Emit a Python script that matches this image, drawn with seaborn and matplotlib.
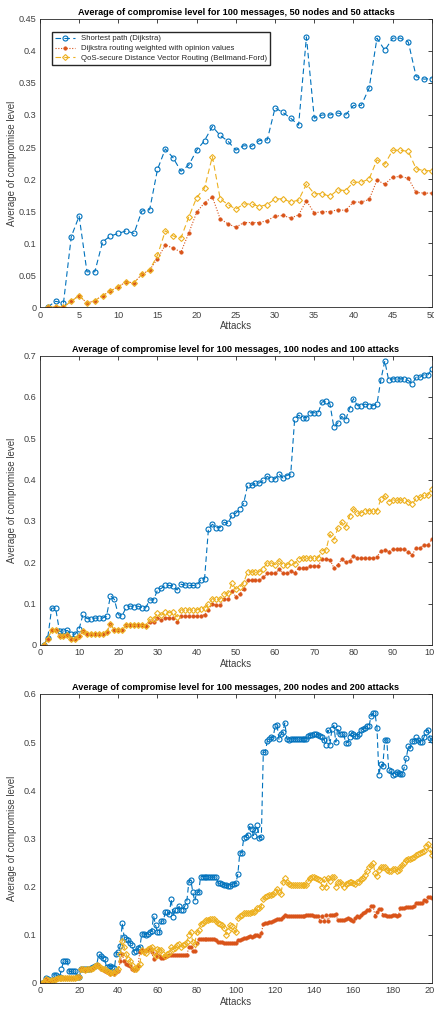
import numpy as np
import pandas as pd
import matplotlib
matplotlib.use('Agg')
import matplotlib.pyplot as plt
from matplotlib.ticker import FuncFormatter
import seaborn as sns

# panel 1: 50 nodes / 50 attacks
p1_sp = [0, 0.009, 0.006, 0.11, 0.142, 0.055, 0.055, 0.102, 0.111, 0.115,
         0.119, 0.115, 0.150, 0.152, 0.215, 0.247, 0.233, 0.212, 0.222, 0.245,
         0.26, 0.282, 0.268, 0.259, 0.245, 0.252, 0.251, 0.26, 0.261, 0.311,
         0.304, 0.295, 0.284, 0.422, 0.295, 0.30, 0.30, 0.303, 0.30, 0.315,
         0.315, 0.342, 0.42, 0.401, 0.42, 0.42, 0.414, 0.36, 0.356, 0.357]
p1_dw = [0, 0, 0, 0.009, 0.018, 0.006, 0.01, 0.018, 0.025, 0.032,
         0.039, 0.038, 0.051, 0.058, 0.0755, 0.097, 0.092, 0.086, 0.116, 0.148,
         0.163, 0.172, 0.1375, 0.13, 0.1245, 0.132, 0.132, 0.132, 0.135, 0.142,
         0.143, 0.139, 0.144, 0.166, 0.147, 0.149, 0.149, 0.152, 0.151, 0.164,
         0.164, 0.168, 0.198, 0.192, 0.203, 0.204, 0.201, 0.179, 0.178, 0.178]
p1_qos = [0, 0, 0, 0.009, 0.018, 0.006, 0.01, 0.018, 0.025, 0.032,
          0.039, 0.038, 0.051, 0.058, 0.081, 0.119, 0.111, 0.108, 0.141, 0.171,
          0.186, 0.235, 0.169, 0.160, 0.153, 0.161, 0.161, 0.157, 0.160, 0.169,
          0.169, 0.164, 0.167, 0.192, 0.177, 0.177, 0.173, 0.183, 0.182, 0.195,
          0.195, 0.2, 0.23, 0.223, 0.245, 0.245, 0.243, 0.216, 0.213, 0.213]

# panel 2: 100 nodes / 100 attacks
p2_sp = [0, 0.018, 0.089, 0.089, 0.033, 0.033, 0.035, 0.027, 0.026, 0.039,
         0.074, 0.064, 0.063, 0.065, 0.065, 0.065, 0.07, 0.119, 0.11, 0.073,
         0.071, 0.091, 0.094, 0.093, 0.094, 0.09, 0.09, 0.109, 0.109, 0.133,
         0.137, 0.145, 0.144, 0.143, 0.133, 0.147, 0.145, 0.144, 0.144, 0.144,
         0.157, 0.159, 0.281, 0.292, 0.284, 0.284, 0.297, 0.294, 0.315, 0.319,
         0.328, 0.343, 0.387, 0.386, 0.392, 0.392, 0.398, 0.408, 0.402, 0.402,
         0.414, 0.404, 0.41, 0.414, 0.547, 0.556, 0.55, 0.55, 0.562, 0.562,
         0.562, 0.588, 0.59, 0.583, 0.527, 0.537, 0.553, 0.545, 0.572, 0.596,
         0.579, 0.579, 0.583, 0.579, 0.579, 0.583, 0.642, 0.687, 0.64, 0.644,
         0.644, 0.644, 0.644, 0.64, 0.632, 0.648, 0.648, 0.654, 0.653, 0.668]
p2_dw = [0, 0.015, 0.036, 0.036, 0.022, 0.022, 0.024, 0.015, 0.015, 0.022,
         0.033, 0.027, 0.027, 0.027, 0.027, 0.027, 0.031, 0.05, 0.036, 0.036,
         0.036, 0.048, 0.048, 0.048, 0.048, 0.048, 0.046, 0.056, 0.056, 0.066,
         0.061, 0.066, 0.066, 0.066, 0.055, 0.069, 0.069, 0.069, 0.069, 0.069,
         0.071, 0.073, 0.085, 0.099, 0.096, 0.096, 0.11, 0.11, 0.13, 0.117,
         0.124, 0.135, 0.156, 0.156, 0.156, 0.156, 0.164, 0.173, 0.173, 0.173,
         0.183, 0.173, 0.173, 0.178, 0.175, 0.186, 0.186, 0.186, 0.191, 0.191,
         0.191, 0.208, 0.208, 0.206, 0.187, 0.194, 0.207, 0.2, 0.204, 0.215,
         0.21, 0.21, 0.21, 0.21, 0.21, 0.213, 0.227, 0.23, 0.226, 0.231,
         0.231, 0.231, 0.231, 0.226, 0.218, 0.235, 0.235, 0.242, 0.242, 0.256]
p2_qos = [0, 0.015, 0.036, 0.036, 0.022, 0.022, 0.024, 0.015, 0.015, 0.022,
          0.033, 0.027, 0.027, 0.027, 0.027, 0.027, 0.031, 0.05, 0.036, 0.036,
          0.036, 0.048, 0.048, 0.048, 0.048, 0.048, 0.046, 0.062, 0.062, 0.077,
          0.072, 0.08, 0.078, 0.08, 0.068, 0.085, 0.085, 0.085, 0.085, 0.085,
          0.087, 0.089, 0.099, 0.112, 0.111, 0.111, 0.123, 0.125, 0.149, 0.135,
          0.14, 0.151, 0.177, 0.177, 0.177, 0.177, 0.185, 0.199, 0.199, 0.194,
          0.204, 0.194, 0.194, 0.2, 0.196, 0.208, 0.211, 0.211, 0.211, 0.211,
          0.211, 0.228, 0.23, 0.268, 0.254, 0.282, 0.297, 0.285, 0.312, 0.33,
          0.319, 0.32, 0.325, 0.325, 0.325, 0.325, 0.353, 0.361, 0.347, 0.351,
          0.351, 0.351, 0.351, 0.347, 0.34, 0.355, 0.357, 0.362, 0.362, 0.378]

# panel 3: 200 nodes / 200 attacks
p3_sp = [0, 0.002, 0.01, 0.008, 0.005, 0.007, 0.017, 0.017, 0.012, 0.012,
         0.028, 0.045, 0.045, 0.045, 0.024, 0.024, 0.024, 0.024, 0.012, 0.012,
         0.028, 0.03, 0.028, 0.03, 0.03, 0.031, 0.033, 0.036, 0.038, 0.06,
         0.055, 0.052, 0.05, 0.033, 0.034, 0.036, 0.033, 0.031, 0.061, 0.065,
         0.077, 0.124, 0.095, 0.092, 0.089, 0.084, 0.079, 0.064, 0.067, 0.072,
         0.075, 0.102, 0.102, 0.1, 0.102, 0.105, 0.107, 0.139, 0.12, 0.105,
         0.105, 0.128, 0.129, 0.148, 0.148, 0.143, 0.174, 0.138, 0.152, 0.152,
         0.159, 0.152, 0.152, 0.16, 0.171, 0.21, 0.214, 0.189, 0.17, 0.188,
         0.188, 0.221, 0.221, 0.221, 0.221, 0.22, 0.22, 0.22, 0.22, 0.219,
         0.207, 0.207, 0.205, 0.204, 0.203, 0.201, 0.202, 0.205, 0.206, 0.207,
         0.226, 0.27, 0.27, 0.3, 0.304, 0.308, 0.325, 0.32, 0.306, 0.318,
         0.327, 0.3, 0.304, 0.479, 0.479, 0.502, 0.506, 0.511, 0.509, 0.533,
         0.535, 0.506, 0.516, 0.521, 0.54, 0.507, 0.504, 0.507, 0.507, 0.507,
         0.507, 0.507, 0.507, 0.507, 0.507, 0.507, 0.513, 0.515, 0.515, 0.517,
         0.517, 0.515, 0.512, 0.51, 0.505, 0.495, 0.525, 0.495, 0.527, 0.535,
         0.5, 0.53, 0.517, 0.517, 0.517, 0.499, 0.499, 0.51, 0.519, 0.517,
         0.513, 0.513, 0.517, 0.525, 0.527, 0.53, 0.534, 0.534, 0.555, 0.56,
         0.56, 0.53, 0.432, 0.455, 0.451, 0.505, 0.505, 0.443, 0.44, 0.432,
         0.434, 0.438, 0.436, 0.434, 0.434, 0.449, 0.468, 0.491, 0.488, 0.502,
         0.502, 0.511, 0.504, 0.5, 0.5, 0.51, 0.522, 0.526, 0.509, 0.505]
p3_dw = [0, 0.002, 0.008, 0.006, 0.005, 0.007, 0.007, 0.008, 0.01, 0.01,
         0.01, 0.01, 0.011, 0.011, 0.01, 0.01, 0.011, 0.011, 0.012, 0.012,
         0.028, 0.028, 0.027, 0.028, 0.028, 0.029, 0.032, 0.035, 0.038, 0.033,
         0.03, 0.028, 0.025, 0.022, 0.02, 0.019, 0.02, 0.019, 0.022, 0.025,
         0.045, 0.06, 0.045, 0.04, 0.038, 0.035, 0.03, 0.027, 0.03, 0.035,
         0.065, 0.068, 0.066, 0.068, 0.068, 0.07, 0.065, 0.049, 0.06, 0.055,
         0.055, 0.052, 0.052, 0.054, 0.056, 0.058, 0.058, 0.058, 0.058, 0.058,
         0.058, 0.058, 0.058, 0.058, 0.058, 0.075, 0.075, 0.066, 0.066, 0.082,
         0.091, 0.091, 0.091, 0.091, 0.091, 0.091, 0.091, 0.091, 0.091, 0.09,
         0.085, 0.085, 0.085, 0.084, 0.084, 0.084, 0.083, 0.083, 0.082, 0.082,
         0.09, 0.09, 0.091, 0.093, 0.094, 0.096, 0.098, 0.096, 0.097, 0.1,
         0.1, 0.098, 0.103, 0.123, 0.124, 0.125, 0.127, 0.127, 0.128, 0.13,
         0.132, 0.133, 0.133, 0.138, 0.141, 0.14, 0.14, 0.14, 0.14, 0.14,
         0.14, 0.14, 0.14, 0.14, 0.14, 0.141, 0.142, 0.142, 0.141, 0.14,
         0.14, 0.14, 0.128, 0.14, 0.128, 0.141, 0.128, 0.142, 0.142, 0.142,
         0.143, 0.13, 0.13, 0.131, 0.13, 0.132, 0.134, 0.133, 0.13, 0.129,
         0.135, 0.14, 0.138, 0.142, 0.145, 0.148, 0.152, 0.152, 0.16, 0.16,
         0.139, 0.148, 0.154, 0.154, 0.141, 0.142, 0.14, 0.14, 0.14, 0.141,
         0.142, 0.14, 0.142, 0.155, 0.155, 0.155, 0.157, 0.158, 0.158, 0.158,
         0.16, 0.165, 0.165, 0.165, 0.165, 0.172, 0.17, 0.178, 0.178, 0.176]
p3_qos = [0, 0.002, 0.008, 0.006, 0.005, 0.007, 0.007, 0.008, 0.01, 0.01,
          0.01, 0.01, 0.011, 0.011, 0.01, 0.01, 0.011, 0.011, 0.012, 0.012,
          0.028, 0.028, 0.027, 0.028, 0.03, 0.03, 0.032, 0.035, 0.038, 0.035,
          0.032, 0.03, 0.028, 0.025, 0.022, 0.02, 0.022, 0.02, 0.024, 0.028,
          0.06, 0.088, 0.075, 0.06, 0.05, 0.045, 0.038, 0.03, 0.028, 0.035,
          0.04, 0.068, 0.065, 0.063, 0.07, 0.072, 0.075, 0.065, 0.055, 0.07,
          0.068, 0.068, 0.06, 0.055, 0.06, 0.062, 0.075, 0.07, 0.072, 0.078,
          0.08, 0.075, 0.078, 0.08, 0.085, 0.1, 0.106, 0.085, 0.08, 0.105,
          0.11, 0.123, 0.125, 0.128, 0.13, 0.13, 0.132, 0.132, 0.132, 0.128,
          0.125, 0.122, 0.12, 0.115, 0.1, 0.108, 0.12, 0.118, 0.11, 0.105,
          0.135, 0.14, 0.142, 0.145, 0.145, 0.145, 0.145, 0.148, 0.148, 0.15,
          0.155, 0.155, 0.16, 0.175, 0.178, 0.18, 0.182, 0.183, 0.185, 0.188,
          0.195, 0.188, 0.185, 0.21, 0.218, 0.21, 0.205, 0.203, 0.203, 0.203,
          0.203, 0.203, 0.203, 0.203, 0.203, 0.203, 0.212, 0.218, 0.22, 0.22,
          0.218, 0.215, 0.213, 0.2, 0.215, 0.2, 0.218, 0.212, 0.22, 0.22,
          0.2, 0.21, 0.21, 0.205, 0.2, 0.205, 0.208, 0.21, 0.21, 0.207,
          0.205, 0.21, 0.21, 0.215, 0.218, 0.225, 0.232, 0.24, 0.245, 0.25,
          0.228, 0.222, 0.235, 0.24, 0.24, 0.24, 0.235, 0.233, 0.232, 0.237,
          0.237, 0.233, 0.235, 0.24, 0.245, 0.25, 0.255, 0.257, 0.258, 0.26,
          0.262, 0.265, 0.268, 0.27, 0.272, 0.275, 0.285, 0.288, 0.278, 0.265]

labels = ['Shortest path (Dijkstra)',
          'Dijkstra routing weighted with opinion values',
          'QoS-secure Distance Vector Routing (Bellmand-Ford)']
titles = ['Average of compromise level for 100 messages, 50 nodes and 50 attacks',
          'Average of compromise level for 100 messages, 100 nodes and 100 attacks',
          'Average of compromise level for 100 messages, 200 nodes and 200 attacks']
panels = [(p1_sp, p1_dw, p1_qos), (p2_sp, p2_dw, p2_qos), (p3_sp, p3_dw, p3_qos)]
xmax = [50, 100, 200]
xstep = [5, 10, 20]
ymax = [0.45, 0.7, 0.6]
ystep = [0.05, 0.1, 0.1]

sns.set_style('white')
plt.rcParams['font.family'] = ['Liberation Sans', 'DejaVu Sans']

fig = plt.figure(figsize=(4.34, 10.09), dpi=100)
rects = [[0.092, 0.6957, 0.903, 0.2855],
         [0.092, 0.3608, 0.903, 0.2867],
         [0.092, 0.0258, 0.903, 0.2864]]

dark = '#262626'
styles = [dict(color='#0072BD', linestyle=(0, (5, 3)), marker='o', markersize=3.6,
               markerfacecolor='none', markeredgecolor='#0072BD', markeredgewidth=0.8),
          dict(color='#D95319', linestyle=(0, (1, 1.5)), marker='o', markersize=2.6,
               markerfacecolor='#D95319', markeredgecolor='#D95319', markeredgewidth=0.3),
          dict(color='#EDB120', linestyle=(0, (5, 3)), marker='D', markersize=3.0,
               markerfacecolor='none', markeredgecolor='#EDB120', markeredgewidth=0.8)]

fmt = FuncFormatter(lambda v, p: f'{v:g}')

for i, (series, rect) in enumerate(zip(panels, rects)):
    ax = fig.add_axes(rect)
    df = pd.DataFrame({'Attacks': np.arange(1, len(series[0]) + 1),
                       'sp': series[0], 'dw': series[1], 'qos': series[2]})
    for col, lab, st in zip(['sp', 'dw', 'qos'], labels, styles):
        sns.lineplot(data=df, x='Attacks', y=col, ax=ax, linewidth=0.8,
                     label=lab if i == 0 else None, legend=False, **st)
    ax.set_xlim(0, xmax[i])
    ax.set_ylim(0, ymax[i])
    ax.set_xticks(np.arange(0, xmax[i] + 0.1, xstep[i]))
    ax.set_yticks(np.round(np.arange(0, ymax[i] + 1e-9, ystep[i]), 2))
    ax.yaxis.set_major_formatter(fmt)
    ax.tick_params(direction='in', top=True, right=True, length=3, width=0.6,
                   labelsize=6.6, colors=dark, labelcolor='#404040', pad=2.5)
    for s in ax.spines.values():
        s.set_color(dark)
        s.set_linewidth(0.6)
    ax.set_xlabel('Attacks', fontsize=7, color='#404040', labelpad=1)
    ax.set_ylabel('Average of compromise level', fontsize=7, color='#404040')
    ax.yaxis.set_label_coords(-0.058, 0.5)
    ax.set_title(titles[i], fontsize=6.6, fontweight='bold', color='black', pad=3)
    if i == 0:
        ax.legend(loc='upper left', bbox_to_anchor=(0.03, 0.955), borderaxespad=0,
                  fontsize=5.6, frameon=True, fancybox=False, edgecolor=dark,
                  framealpha=1, handlelength=2.6, borderpad=0.4, labelspacing=0.3)

fig.savefig('out.png', dpi=100)
